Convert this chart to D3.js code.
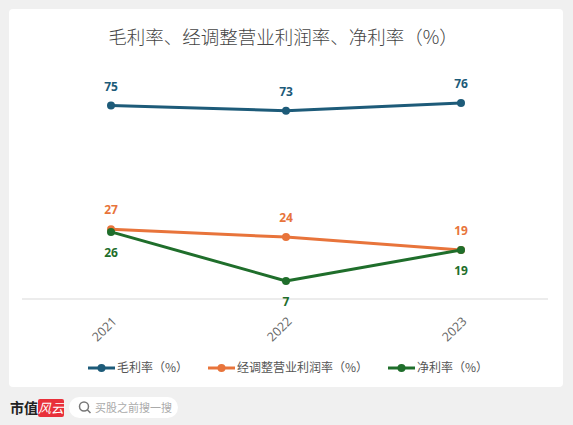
<!DOCTYPE html>
<html>
<head>
<meta charset="utf-8">
<script src="https://cdn.jsdelivr.net/npm/d3@7"></script>
<style>
  html, body { margin: 0; padding: 0; background: #f0f0f0; }
  svg { display: block; font-family: "Noto Sans CJK SC", "Noto Sans", sans-serif; }
</style>
</head>
<body>
<div id="app"></div>
<script>
// Chart data
var years = ["2021", "2022", "2023"];
var grossMargin = [75, 73, 76];
var adjOpMargin = [27, 24, 19];
var netMargin = [26, 7, 19];
var seriesNames = ["毛利率（%）", "经调整营业利润率（%）", "净利率（%）"];
var seriesColors = ["#1d5b79", "#e8743b", "#1f6e2b"];

var width = 573,
  height = 425;

var svg = d3.select("#app")
  .append("svg")
  .attr("width", width)
  .attr("height", height);

// Outer grey frame and white card
svg.append("rect")
  .attr("x", 0).attr("y", 0)
  .attr("width", width).attr("height", height)
  .attr("rx", 10)
  .attr("fill", "#f0f0f0");

svg.append("rect")
  .attr("x", 9).attr("y", 9)
  .attr("width", 554).attr("height", 378)
  .attr("rx", 4)
  .attr("fill", "#ffffff");

// Title
svg.append("text")
  .attr("x", 283)
  .attr("y", 44)
  .attr("text-anchor", "middle")
  .attr("font-size", 18.5)
  .attr("font-weight", 300)
  .attr("fill", "#444")
  .text("毛利率、经调整营业利润率、净利率（%）");

// Scales
var x = d3.scalePoint()
  .domain(years)
  .range([111, 461]);

var y = d3.scaleLinear()
  .domain([0, 80])
  .range([299, 92.6]);

// Baseline
svg.append("line")
  .attr("x1", 22).attr("x2", 548)
  .attr("y1", y(0)).attr("y2", y(0))
  .attr("stroke", "#d9d9d9")
  .attr("stroke-width", 1);

// X axis labels (rotated)
var xAxis = d3.axisBottom(x).tickSize(0).tickPadding(0);
var gx = svg.append("g")
  .attr("transform", "translate(0," + (y(0) + 20) + ")")
  .call(xAxis);
gx.select(".domain").remove();
gx.selectAll("text")
  .attr("font-size", 12.5)
  .attr("fill", "#666")
  .attr("font-family", "'Open Sans', 'Noto Sans', sans-serif")
  .attr("text-anchor", "end")
  .attr("dy", "0.35em")
  .attr("transform", "translate(3,0) rotate(-45)");

// Series
var series = [
  { name: seriesNames[0], color: seriesColors[0], values: grossMargin, labelPos: ["up", "up", "up"] },
  { name: seriesNames[1], color: seriesColors[1], values: adjOpMargin, labelPos: ["up", "up", "up"] },
  { name: seriesNames[2], color: seriesColors[2], values: netMargin, labelPos: ["down", "down", "down"] }
];

var line = d3.line()
  .x(d => x(d.year))
  .y(d => y(d.value));

series.forEach(s => {
  var pts = years.map((yr, i) => ({ year: yr, value: s.values[i], pos: s.labelPos[i] }));

  svg.append("path")
    .datum(pts)
    .attr("d", line)
    .attr("fill", "none")
    .attr("stroke", s.color)
    .attr("stroke-width", 3)
    .attr("stroke-linejoin", "round");

  svg.selectAll(null)
    .data(pts)
    .enter().append("circle")
    .attr("cx", d => x(d.year))
    .attr("cy", d => y(d.value))
    .attr("r", 4)
    .attr("fill", s.color);

  svg.selectAll(null)
    .data(pts)
    .enter().append("text")
    .attr("x", d => x(d.year))
    .attr("y", d => y(d.value) + (d.pos === "up" ? -15 : 25))
    .attr("text-anchor", "middle")
    .attr("font-size", 12)
    .attr("font-weight", "bold")
    .attr("font-family", "'Open Sans', 'Noto Sans', sans-serif")
    .attr("fill", s.color)
    .text(d => d.value);
});

// Legend
var legendX = [88, 208, 388];
var legend = svg.selectAll(".legend")
  .data(series)
  .enter().append("g")
  .attr("class", "legend")
  .attr("transform", (d, i) => "translate(" + legendX[i] + ",368)");

legend.append("line")
  .attr("x1", 0).attr("x2", 27)
  .attr("stroke", d => d.color)
  .attr("stroke-width", 3);

legend.append("circle")
  .attr("cx", 13.5)
  .attr("r", 4)
  .attr("fill", d => d.color);

legend.append("text")
  .attr("x", 29)
  .attr("dy", "0.35em")
  .attr("font-size", 12)
  .attr("fill", "#555")
  .text(d => d.name);

// Footer: logo and search box
svg.append("text")
  .attr("x", 10)
  .attr("y", 413)
  .attr("font-size", 14)
  .attr("font-weight", "bold")
  .attr("fill", "#222")
  .text("市值");

svg.append("rect")
  .attr("x", 38).attr("y", 399)
  .attr("width", 26).attr("height", 18)
  .attr("rx", 2)
  .attr("fill", "#e8303a");

svg.append("text")
  .attr("x", 51)
  .attr("y", 413)
  .attr("text-anchor", "middle")
  .attr("font-size", 13)
  .attr("font-style", "italic")
  .attr("fill", "#fff")
  .text("风云");

svg.append("rect")
  .attr("x", 69).attr("y", 397)
  .attr("width", 109).attr("height", 21)
  .attr("rx", 10.5)
  .attr("fill", "#ffffff");

svg.append("circle")
  .attr("cx", 84).attr("cy", 406.5)
  .attr("r", 4.5)
  .attr("fill", "none")
  .attr("stroke", "#777")
  .attr("stroke-width", 1.5);

svg.append("line")
  .attr("x1", 87.3).attr("y1", 409.8)
  .attr("x2", 90.5).attr("y2", 413)
  .attr("stroke", "#777")
  .attr("stroke-width", 1.5);

svg.append("text")
  .attr("x", 95)
  .attr("y", 412)
  .attr("font-size", 11)
  .attr("fill", "#aaa")
  .text("买股之前搜一搜");
</script>
</body>
</html>
